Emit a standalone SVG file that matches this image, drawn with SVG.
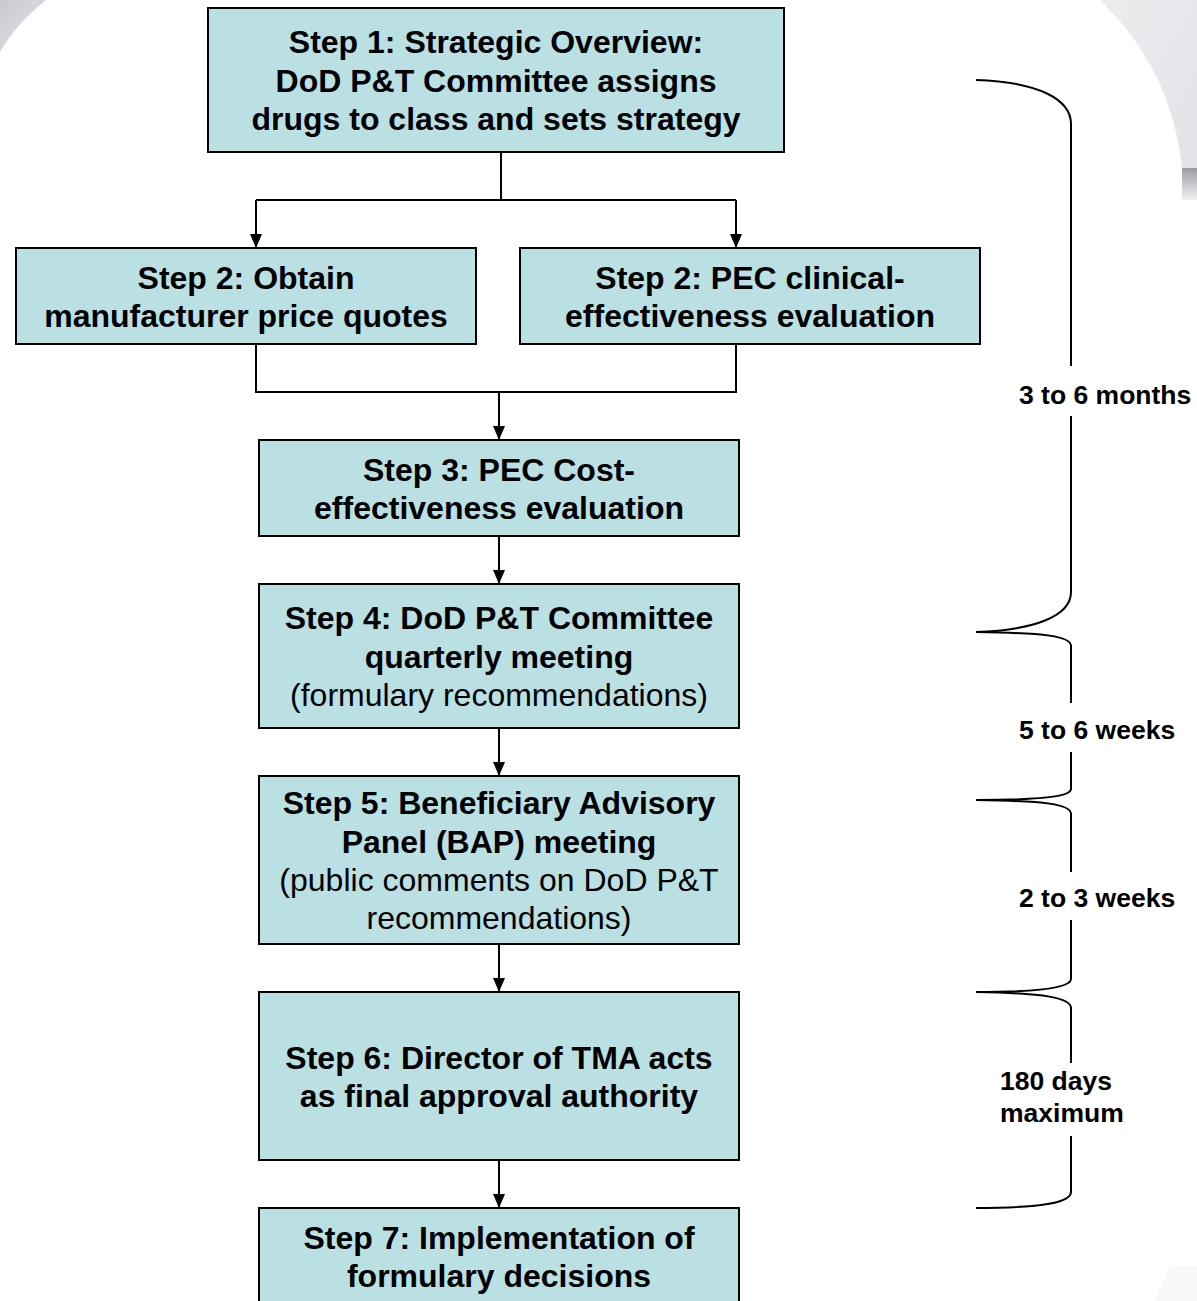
<svg xmlns="http://www.w3.org/2000/svg" width="1197" height="1301" viewBox="0 0 1197 1301">
<style>
.box{fill:#BBE0E3;stroke:#000;stroke-width:2}
.b{font-family:"Liberation Sans",Arial,sans-serif;font-weight:bold;font-size:32px;fill:#000;text-anchor:middle}
.r{font-family:"Liberation Sans",Arial,sans-serif;font-size:32px;fill:#000;text-anchor:middle}
.lbl{font-family:"Liberation Sans",Arial,sans-serif;font-weight:bold;font-size:26.5px;fill:#000}
.ln{fill:none;stroke:#000;stroke-width:2}
.br{fill:none;stroke:#000;stroke-width:2}
</style>
<defs>
<marker id="ah" viewBox="0 0 14 12" refX="14" refY="6" markerWidth="14" markerHeight="12" markerUnits="userSpaceOnUse" orient="auto">
<path d="M0,0 L14,6 L0,12 Z" fill="#000"/>
</marker>
<linearGradient id="gl" x1="0" y1="0" x2="1" y2="1"><stop offset="0" stop-color="#c9c9d0"/><stop offset="1" stop-color="#e4e4e8"/></linearGradient>
<linearGradient id="gr" x1="0" y1="0" x2="1" y2="1"><stop offset="0" stop-color="#ececef"/><stop offset="1" stop-color="#e2e3e7"/></linearGradient>
<linearGradient id="gb" x1="0" y1="0" x2="0" y2="1"><stop offset="0" stop-color="#9a9aa0"/><stop offset="0.5" stop-color="#c8c8cc"/><stop offset="1" stop-color="#f0f0f2"/></linearGradient>
</defs>
<rect width="1197" height="1301" fill="#fff"/>
<g id="background">
<path d="M0,0 L46,0 Q16,24 0,52 Z" fill="url(#gl)"/>
<path d="M1100,0 Q1172,70 1182,168 L1197,168 L1197,0 Z" fill="url(#gr)"/>
<rect x="1182" y="168" width="15" height="32" fill="url(#gb)"/>
<path d="M1155,1301 L1170,1266 L1197,1266 L1197,1301 Z" fill="#f8f8f9"/>
</g>
<g id="connectors">
<path class="ln" d="M501,152 V200"/>
<path class="ln" d="M256,200 H736"/>
<path class="ln" d="M256,200 V248" marker-end="url(#ah)"/>
<path class="ln" d="M736,200 V248" marker-end="url(#ah)"/>
<path class="ln" d="M256,344 V392 H736 V344"/>
<path class="ln" d="M499,392 V440" marker-end="url(#ah)"/>
<path class="ln" d="M499,536 V584" marker-end="url(#ah)"/>
<path class="ln" d="M499,728 V776" marker-end="url(#ah)"/>
<path class="ln" d="M499,944 V992" marker-end="url(#ah)"/>
<path class="ln" d="M499,1160 V1208" marker-end="url(#ah)"/>
</g>
<g id="step1">
<rect class="box" x="208" y="8" width="576" height="144"/>
<text class="b" x="496" y="53">Step 1: Strategic Overview:</text>
<text class="b" x="496" y="92">DoD P&amp;T Committee assigns</text>
<text class="b" x="496" y="130">drugs to class and sets strategy</text>
</g>
<g id="step2a">
<rect class="box" x="16" y="248" width="460" height="96"/>
<text class="b" x="246" y="289">Step 2: Obtain</text>
<text class="b" x="246" y="327">manufacturer price quotes</text>
</g>
<g id="step2b">
<rect class="box" x="520" y="248" width="460" height="96"/>
<text class="b" x="750" y="289">Step 2: PEC clinical-</text>
<text class="b" x="750" y="327">effectiveness evaluation</text>
</g>
<g id="step3">
<rect class="box" x="259" y="440" width="480" height="96"/>
<text class="b" x="499" y="481">Step 3: PEC Cost-</text>
<text class="b" x="499" y="519">effectiveness evaluation</text>
</g>
<g id="step4">
<rect class="box" x="259" y="584" width="480" height="144"/>
<text class="b" x="499" y="629">Step 4: DoD P&amp;T Committee</text>
<text class="b" x="499" y="668">quarterly meeting</text>
<text class="r" x="499" y="706">(formulary recommendations)</text>
</g>
<g id="step5">
<rect class="box" x="259" y="776" width="480" height="168"/>
<text class="b" x="499" y="814">Step 5: Beneficiary Advisory</text>
<text class="b" x="499" y="853">Panel (BAP) meeting</text>
<text class="r" x="499" y="891">(public comments on DoD P&amp;T</text>
<text class="r" x="499" y="929">recommendations)</text>
</g>
<g id="step6">
<rect class="box" x="259" y="992" width="480" height="168"/>
<text class="b" x="499" y="1069">Step 6: Director of TMA acts</text>
<text class="b" x="499" y="1107">as final approval authority</text>
</g>
<g id="step7">
<rect class="box" x="259" y="1208" width="480" height="110"/>
<text class="b" x="499" y="1249">Step 7: Implementation of</text>
<text class="b" x="499" y="1287">formulary decisions</text>
</g>
<g id="braces">
<path class="br" d="M976,80 C1040,82 1071,100 1071,124 V366"/>
<path class="br" d="M1071,416 V592 C1071,616 1035,630 976,632"/>
<path class="br" d="M976,632 C1045,633 1071,636 1071,646 V703"/>
<path class="br" d="M1071,752 V789 C1071,796 1045,800 976,800"/>
<path class="br" d="M976,800 C1045,801 1071,804 1071,814 V872"/>
<path class="br" d="M1071,920 V979 C1071,987 1045,992 976,992"/>
<path class="br" d="M976,992 C1045,993 1071,998 1071,1008 V1063"/>
<path class="br" d="M1071,1136 V1192 C1071,1202 1045,1208 976,1208"/>
</g>
<g id="labels">
<text class="lbl" x="1019" y="404">3 to 6 months</text>
<text class="lbl" x="1019" y="739">5 to 6 weeks</text>
<text class="lbl" x="1019" y="907">2 to 3 weeks</text>
<text class="lbl" x="1000" y="1090">180 days</text>
<text class="lbl" x="1000" y="1122">maximum</text>
</g>
</svg>
